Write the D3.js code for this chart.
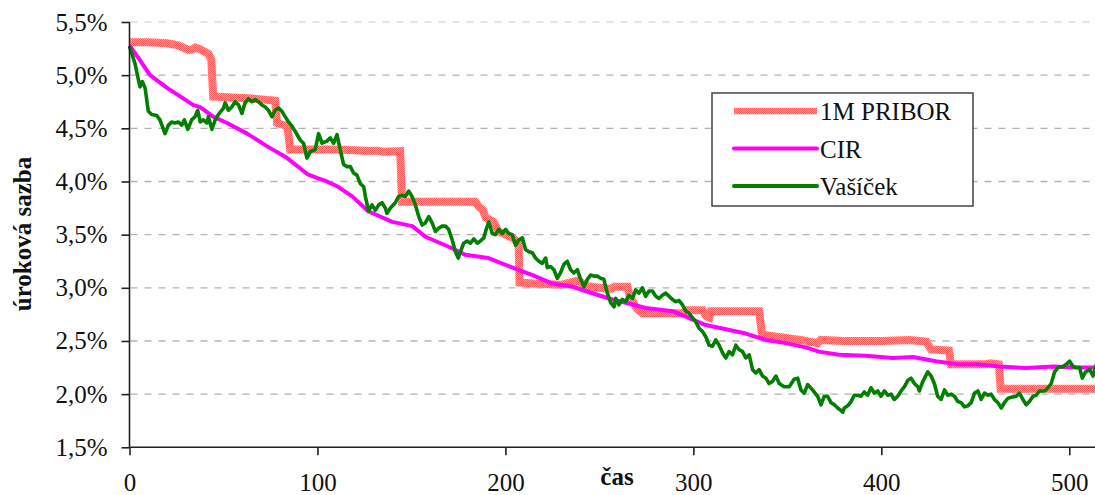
<!DOCTYPE html>
<html>
<head>
<meta charset="utf-8">
<script src="https://cdn.jsdelivr.net/npm/d3@7"></script>
<style>
  body { margin: 0; background: #fff; }
  svg { display: block; }
</style>
</head>
<body>
<svg id="chart" width="1095" height="495"></svg>
<script>
// Axis ticks
const xTicks = [0, 100, 200, 300, 400, 500];
const yTicks = [1.5, 2.0, 2.5, 3.0, 3.5, 4.0, 4.5, 5.0, 5.5];

// 1M PRIBOR (% p.a.) – [time, rate]
const pribor = [
  [0,5.31],[10,5.31],[20,5.30],[26,5.28],[31,5.24],[33,5.24],[35,5.26],[38,5.24],[40,5.22],
  [42,5.20],[43.5,5.15],[44.5,4.80],[55,4.79],[65,4.78],[72,4.77],[77.5,4.76],[78.5,4.55],
  [84,4.52],[85.5,4.30],[110,4.30],[125,4.29],[132,4.29],[135,4.28],[144,4.285],[145,3.81],
  [184,3.81],[186,3.76],[188,3.73],[189.5,3.66],[193.7,3.62],[196.3,3.53],[204,3.47],[207,3.42],
  [207.5,3.05],[215,3.04],[230,3.03],[239,3.07],[242,3.02],[250,3.00],[256,2.99],[258,3.01],
  [265,3.01],[266,2.93],[270,2.80],[273,2.76],[294,2.76],[296,2.79],[305,2.79],[307,2.73],
  [308.5,2.72],[309.3,2.78],[335,2.78],[336.5,2.56],[357,2.51],[366,2.48],[367.8,2.51],
  [380,2.50],[400,2.50],[415,2.51],[423.8,2.495],[426.4,2.42],[436,2.41],[437,2.28],[455,2.28],
  [458,2.29],[462.5,2.28],[463.5,2.05],[514.4,2.05]
];

// CIR model – [time, rate]
const cir = [
  [0,5.28],[5.6,5.14],[10.9,5.00],[20,4.88],[26.9,4.80],[33.8,4.72],[37.6,4.70],[44.5,4.61],
  [51.9,4.55],[62.6,4.45],[73.3,4.33],[83.9,4.22],[94.6,4.07],[100.4,4.03],[105,4.00],
  [111,3.95],[118.5,3.86],[127,3.72],[139.8,3.62],[150.5,3.58],[157.4,3.48],[168,3.40],
  [171.8,3.37],[178.7,3.31],[191,3.28],[203.8,3.19],[214.4,3.12],[225,3.04],[235.8,3.01],
  [242.6,2.97],[249.6,2.93],[257,2.89],[264,2.86],[274.6,2.81],[289,2.78],[299.7,2.70],
  [306.6,2.65],[317.3,2.61],[327.9,2.57],[338.6,2.51],[349.3,2.48],[359.9,2.44],[366.8,2.40],
  [377.5,2.37],[391.8,2.36],[406.2,2.34],[416.9,2.35],[429,2.31],[441.4,2.28],[452,2.28],
  [462.7,2.26],[477,2.245],[491.5,2.26],[503.7,2.25],[514.4,2.25]
];

// Vašíček model – [time, rate]
const vasicek = [
  [0,5.27],[2,5.16],[2.9,5.11],[4.7,4.96],[5.6,4.89],[6.8,4.94],[8.3,4.88],[10,4.66],[11.8,4.63],
  [14.5,4.62],[16.2,4.58],[18.9,4.45],[20.7,4.53],[22.5,4.56],[24.2,4.55],[26,4.56],[27.8,4.53],
  [29.2,4.58],[31,4.49],[33.1,4.58],[34.9,4.61],[36.3,4.67],[37.6,4.56],[39.3,4.58],[41.1,4.55],
  [42,4.61],[43.8,4.49],[45.6,4.58],[47.3,4.63],[50,4.69],[50.9,4.74],[52.6,4.67],[54.4,4.70],
  [56.2,4.75],[58,4.72],[59.8,4.64],[61.5,4.74],[63.3,4.78],[65.1,4.75],[66.9,4.77],[68.6,4.75],
  [70.4,4.72],[72.2,4.70],[73.9,4.67],[75.8,4.61],[77.5,4.67],[79.3,4.69],[81.1,4.66],[82.8,4.61],
  [84.6,4.56],[86.4,4.52],[88.2,4.47],[90.8,4.39],[92.6,4.36],[94.4,4.22],[96.2,4.28],[98.8,4.30],
  [100.6,4.45],[102.4,4.36],[105.1,4.38],[106.8,4.41],[108.6,4.36],[110.4,4.44],[112.1,4.30],
  [113.9,4.16],[115.7,4.14],[117.5,4.14],[119.2,4.08],[121,4.06],[122.8,3.98],[124.6,3.95],
  [125.5,3.86],[127.2,3.72],[129,3.78],[130.8,3.73],[132.6,3.78],[134.4,3.80],[136.1,3.75],
  [137,3.70],[138.8,3.75],[141.4,3.80],[143.2,3.86],[145,3.87],[146.8,3.86],[148.5,3.91],
  [150.3,3.86],[152.1,3.78],[153.9,3.67],[155.7,3.59],[157.4,3.61],[159.2,3.67],[161,3.61],
  [162.8,3.53],[164.5,3.56],[166.3,3.58],[168.1,3.58],[169.8,3.55],[171.7,3.45],[173.4,3.34],
  [174.9,3.28],[176.1,3.34],[177.8,3.42],[179.6,3.44],[181.4,3.42],[183.2,3.46],[185,3.42],
  [186.7,3.44],[188.5,3.47],[189.8,3.55],[191.2,3.62],[193,3.51],[194.7,3.50],[196.5,3.55],
  [198.3,3.51],[200.1,3.55],[201.8,3.51],[203.6,3.50],[205.4,3.40],[207.1,3.45],[209,3.47],
  [210.7,3.36],[212.5,3.34],[214.3,3.33],[216,3.28],[217.8,3.25],[219.6,3.23],[221.4,3.28],
  [222.3,3.19],[224,3.20],[225.8,3.17],[227.6,3.09],[229.3,3.14],[231.1,3.22],[232.9,3.25],
  [234.7,3.17],[236.4,3.14],[238.3,3.17],[240,3.08],[241.8,3.01],[243.6,3.08],[245.3,3.12],
  [247.1,3.11],[248.9,3.11],[250.7,3.09],[252.4,3.08],[254.2,2.95],[256,2.86],[257.8,2.82],
  [258.7,2.90],[260.4,2.84],[262.2,2.89],[264,2.87],[265.7,2.93],[267.6,2.90],[269.3,2.98],
  [271.1,2.95],[272.9,3.00],[274.6,2.92],[276.4,2.97],[278.2,2.97],[280,2.92],[281.7,2.90],
  [283.5,2.93],[285.3,2.95],[287.1,2.92],[288.9,2.89],[290.6,2.87],[292.4,2.88],[294.2,2.84],
  [296,2.78],[297.7,2.76],[299.5,2.72],[301.3,2.68],[303,2.62],[304.8,2.59],[306.6,2.54],
  [308.4,2.46],[310.2,2.45],[311.9,2.51],[313.7,2.46],[315.5,2.39],[317.3,2.34],[319,2.40],
  [320.8,2.37],[322.6,2.46],[324.3,2.42],[326.2,2.40],[327.9,2.34],[329.7,2.37],[331.5,2.23],
  [333.2,2.20],[335,2.23],[336.8,2.17],[338.6,2.15],[340.3,2.10],[342.1,2.12],[343.9,2.17],
  [345.7,2.10],[348.3,2.07],[351,2.07],[353.6,2.14],[355.5,2.15],[357.2,2.04],[359,2.01],
  [360.8,2.09],[363.4,2.04],[366.1,1.98],[367.9,1.90],[369.6,1.98],[371.4,1.98],[373.2,1.92],
  [375,1.90],[376.8,1.87],[378.3,1.85],[379.5,1.83],[380.3,1.87],[382.1,1.89],[383.9,1.93],
  [385.6,1.99],[387.4,1.99],[389.2,1.98],[390.9,2.02],[392.7,1.99],[394.5,2.06],[396.3,2.01],
  [398.1,2.03],[399.8,1.98],[401.6,2.03],[403.4,1.99],[405.2,2.00],[406.9,1.95],[408.7,1.98],
  [410.5,2.03],[412.3,2.07],[414.1,2.13],[415.8,2.15],[417.6,2.10],[419.4,2.07],[420.2,2.03],
  [422.1,2.12],[424.7,2.21],[426.5,2.17],[428.2,2.10],[430,1.98],[431.8,1.95],[433.6,2.04],
  [435.4,1.99],[437.1,2.00],[438.9,1.98],[440.7,1.93],[442.5,1.92],[444.2,1.88],[446,1.89],
  [447.8,1.92],[449.6,2.01],[451.4,2.03],[453.1,1.95],[454.9,2.01],[456.7,1.99],[458.4,2.00],
  [460.2,1.95],[462,1.92],[463.8,1.87],[465.5,1.92],[467.3,1.96],[469.1,1.97],[471.8,1.98],
  [473.5,2.01],[475.3,1.95],[477.1,1.90],[478.8,1.93],[480.7,1.98],[482.4,1.99],[484.2,2.03],
  [486.9,2.03],[488.7,2.06],[490.4,2.10],[492.2,2.21],[494,2.25],[496.7,2.26],[498.4,2.28],
  [500.2,2.31],[502,2.26],[503.7,2.25],[505.5,2.25],[506.9,2.15],[508.7,2.21],[510.9,2.23],
  [512.6,2.17],[514.4,2.28]
];

const seriesNames = ["1M PRIBOR", "CIR", "Vašíček"];
const xTitle = "čas";
const yTitle = "úroková sazba";

const svg = d3.select("#chart");
const FONT = "'Liberation Serif', 'Times New Roman', serif";

const x = d3.scaleLinear().domain([0, 514]).range([129.5, 1095.6]);
const y = d3.scaleLinear().domain([1.5, 5.5]).range([447.3, 22]);

// Dithered light-red texture for the PRIBOR stroke
const defs = svg.append("defs");
const pat = defs.append("pattern").attr("id", "priborFill")
  .attr("patternUnits", "userSpaceOnUse").attr("width", 2).attr("height", 2);
pat.append("rect").attr("width", 2).attr("height", 2).attr("fill", "#ffa0a0");
pat.append("rect").attr("x", 0).attr("y", 0).attr("width", 1).attr("height", 1).attr("fill", "#ff5a5a");
pat.append("rect").attr("x", 1).attr("y", 1).attr("width", 1).attr("height", 1).attr("fill", "#ff5a5a");

// Horizontal dashed gridlines
svg.append("g").selectAll("line")
  .data(yTicks.filter(d => d > 1.5))
  .join("line")
  .attr("x1", x(0) + 1).attr("x2", 1090)
  .attr("y1", d => y(d)).attr("y2", d => y(d))
  .attr("stroke", d => d === 5.5 ? "#dcdcdc" : "#b2b2b2")
  .attr("stroke-width", 1.3)
  .attr("stroke-dasharray", "7,7");

// Series lines
const line = d3.line().x(d => x(d[0])).y(d => y(d[1]));

svg.append("path").datum(pribor)
  .attr("d", line).attr("fill", "none")
  .attr("stroke", "url(#priborFill)").attr("stroke-width", 8)
  .attr("stroke-linejoin", "miter");

svg.append("path").datum(cir)
  .attr("d", line).attr("fill", "none")
  .attr("stroke", "#ff00ff").attr("stroke-width", 4)
  .attr("stroke-linejoin", "round");

svg.append("path").datum(vasicek)
  .attr("d", line).attr("fill", "none")
  .attr("stroke", "#007f00").attr("stroke-width", 3.6)
  .attr("stroke-linejoin", "round");

// Axes
const fmtPct = d => d.toFixed(1).replace(".", ",") + "%";

const yAxis = svg.append("g")
  .attr("transform", `translate(${x(0)},0)`)
  .call(d3.axisLeft(y).tickValues(yTicks).tickFormat(fmtPct).tickSize(8).tickPadding(14));
const xAxis = svg.append("g")
  .attr("transform", `translate(0,${y(1.5)})`)
  .call(d3.axisBottom(x).tickValues(xTicks).tickSize(8).tickPadding(18));

[yAxis, xAxis].forEach(g => {
  g.attr("font-family", FONT);
  g.select(".domain").attr("stroke", "#222").attr("stroke-width", 1.6);
  g.selectAll(".tick line").attr("stroke", "#222").attr("stroke-width", 1.6);
  g.selectAll(".tick text")
    .attr("font-family", FONT).attr("font-size", 25).attr("fill", "#111");
});
yAxis.select(".domain").attr("d", `M0,${y(5.5)}V${y(1.5)}`);
xAxis.select(".domain").attr("d", `M${x(0)},0H1095`);

// Axis titles
svg.append("text")
  .attr("x", 617).attr("y", 485)
  .attr("text-anchor", "middle")
  .attr("font-family", FONT).attr("font-size", 25).attr("font-weight", "bold")
  .attr("fill", "#111")
  .text(xTitle);

svg.append("text")
  .attr("transform", "translate(31,234) rotate(-90)")
  .attr("text-anchor", "middle")
  .attr("font-family", FONT).attr("font-size", 25).attr("font-weight", "bold")
  .attr("fill", "#111")
  .text(yTitle);

// Legend
const legend = svg.append("g");
legend.append("rect")
  .attr("x", 712).attr("y", 93).attr("width", 261).attr("height", 113)
  .attr("fill", "#fff").attr("stroke", "#444").attr("stroke-width", 1.5);

const legendRows = [
  { name: seriesNames[0], stroke: "url(#priborFill)", width: 6.5, y: 111 },
  { name: seriesNames[1], stroke: "#ff00ff", width: 4, y: 148.5 },
  { name: seriesNames[2], stroke: "#007f00", width: 4, y: 186 }
];
legendRows.forEach(r => {
  legend.append("line")
    .attr("x1", 734).attr("x2", 817).attr("y1", r.y).attr("y2", r.y)
    .attr("stroke", r.stroke).attr("stroke-width", r.width)
    .attr("stroke-linecap", r.width > 5 ? "butt" : "round");
  legend.append("text")
    .attr("x", 820).attr("y", r.y + 9)
    .attr("font-family", FONT).attr("font-size", 25).attr("fill", "#111")
    .text(r.name);
});
</script>
</body>
</html>
